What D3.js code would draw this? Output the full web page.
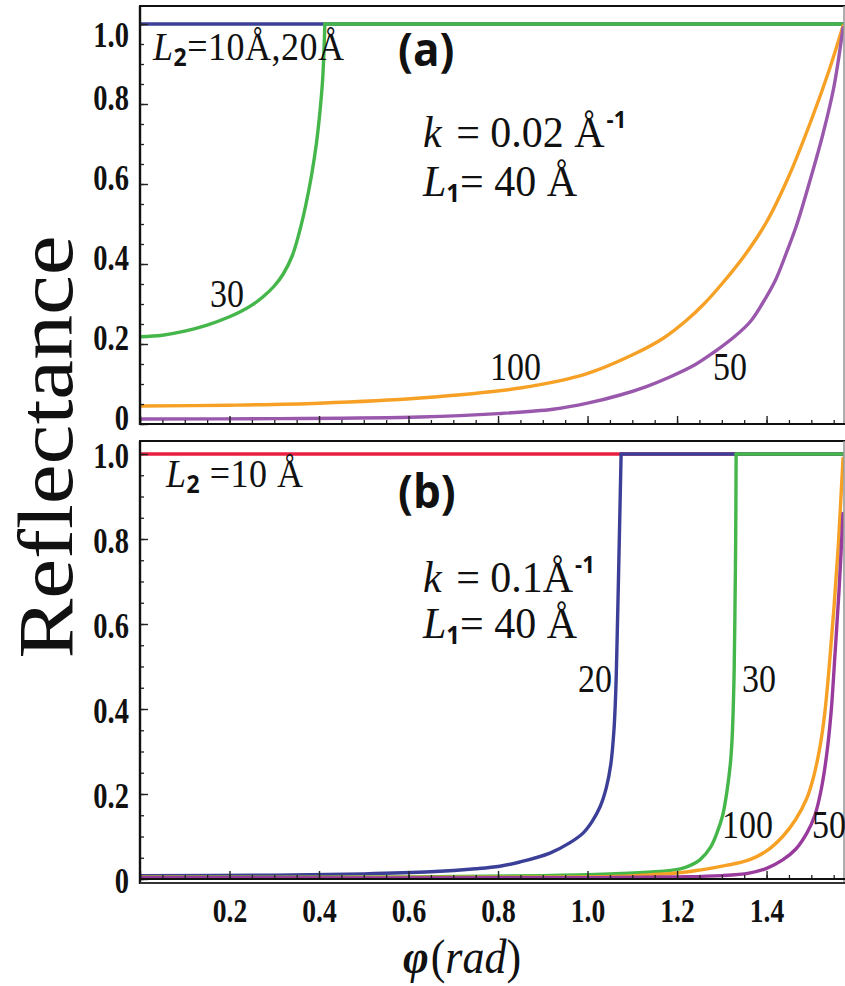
<!DOCTYPE html>
<html>
<head>
<meta charset="utf-8">
<script src="https://cdn.jsdelivr.net/npm/d3@7"></script>
<style>
  body { margin: 0; background: #fff; }
  svg { display: block; }
</style>
</head>
<body>
<svg id="chart" width="845" height="986"></svg>
<script>
// ---- data: [phi (rad), reflectance] ----
const HALF_PI = Math.PI / 2;

// panel (a): k = 0.02 1/A
const aBlue = [[0, 1.0], [HALF_PI, 1.0]];
const aGreen = [[0, 0.218], [0.05, 0.222], [0.1, 0.232], [0.15, 0.247], [0.2, 0.268], [0.225, 0.281],
    [0.25, 0.297], [0.275, 0.318], [0.3, 0.345], [0.32, 0.375], [0.34, 0.42], [0.355, 0.475],
    [0.37, 0.545], [0.383, 0.62], [0.394, 0.7], [0.402, 0.78], [0.408, 0.86], [0.411, 0.93], [0.413, 1.0]];
const aGreenTop = [[0.413, 1.0], [HALF_PI, 1.0]];
const aOrange = [[0, 0.045], [0.2, 0.047], [0.4, 0.052], [0.626, 0.065], [0.849, 0.09], [0.999, 0.126],
    [1.11, 0.178], [1.17, 0.215], [1.222, 0.26], [1.26, 0.3], [1.3, 0.35], [1.35, 0.42], [1.4, 0.505],
    [1.45, 0.62], [1.5, 0.76], [1.54, 0.885], [HALF_PI, 0.995]];
const aPurple = [[0, 0.0125], [0.3, 0.0135], [0.626, 0.0175], [0.8, 0.026], [0.923, 0.037], [1.0, 0.052],
    [1.073, 0.0725], [1.13, 0.093], [1.184, 0.1175], [1.24, 0.148], [1.28, 0.1775], [1.33, 0.22],
    [1.363, 0.255], [1.39, 0.3], [1.42, 0.36], [1.445, 0.43], [1.468, 0.5], [1.5, 0.62], [1.526, 0.725],
    [1.55, 0.84], [HALF_PI, 0.99]];

// panel (b): k = 0.1 1/A
const bRed = [[0, 1.0], [HALF_PI, 1.0]];
const bBlue = [[0, 0.008], [0.3, 0.009], [0.5, 0.012], [0.65, 0.017], [0.75, 0.024], [0.804, 0.03],
    [0.849, 0.04], [0.916, 0.061], [0.96, 0.085], [0.99, 0.108], [1.01, 0.135], [1.028, 0.17],
    [1.042, 0.215], [1.052, 0.27], [1.059, 0.35], [1.063, 0.44], [1.066, 0.56], [1.07, 0.75],
    [1.073, 0.9], [1.075, 1.0]];
const bBlueTop = [[1.075, 1.0], [HALF_PI, 1.0]];
const bGreen = [[0, 0.004], [0.6, 0.005], [0.9, 0.008], [1.05, 0.012], [1.15, 0.017], [1.207, 0.024],
    [1.23, 0.032], [1.251, 0.045], [1.275, 0.075], [1.289, 0.108], [1.302, 0.15], [1.312, 0.21],
    [1.319, 0.27], [1.323, 0.33], [1.327, 0.46], [1.329, 0.6], [1.331, 0.8], [1.332, 1.0]];
const bGreenTop = [[1.332, 1.0], [HALF_PI, 1.0]];
const bOrange = [[0, 0.004], [0.8, 0.004], [1.0, 0.005], [1.105, 0.008], [1.2, 0.014], [1.25, 0.021],
    [1.31, 0.032], [1.361, 0.045], [1.4, 0.066], [1.436, 0.1], [1.465, 0.14], [1.49, 0.19],
    [1.505, 0.24], [1.52, 0.315], [1.53, 0.39], [1.54, 0.5], [1.55, 0.63], [1.56, 0.78], [HALF_PI, 0.99]];
const bPurple = [[0, 0.003], [1.0, 0.003], [1.2, 0.005], [1.3, 0.008], [1.361, 0.014], [1.4, 0.025],
    [1.436, 0.045], [1.465, 0.07], [1.49, 0.108], [1.508, 0.15], [1.522, 0.21], [1.534, 0.29],
    [1.544, 0.39], [1.553, 0.53], [1.562, 0.68], [HALF_PI, 0.86]];

// ticks
const yMajor = [0, 0.2, 0.4, 0.6, 0.8, 1.0];
const yLabels = ["0", "0.2", "0.4", "0.6", "0.8", "1.0"];
const xMajor = [0, 0.2, 0.4, 0.6, 0.8, 1.0, 1.2, 1.4];
const xLabels = ["", "0.2", "0.4", "0.6", "0.8", "1.0", "1.2", "1.4"];
const minorStep = 0.05;

const colors = {
    blue: "#3b3f97",
    green: "#45b64a",
    orange: "#f6a125",
    purpleA: "#9a58ad",
    purpleB: "#993b9d",
    red: "#ea1e40"
};

const SERIF = "'Liberation Serif', 'Times New Roman', serif";
const SANS = "'Open Sans', 'Noto Sans', sans-serif";

const svg = d3.select("#chart");

// scales
const x = d3.scaleLinear().domain([0, HALF_PI]).range([140, 843]);
const yA = d3.scaleLinear().domain([0, 1]).range([424, 24]);
const yB = d3.scaleLinear().domain([0, 1]).range([879, 454]);

const left = 140, right = 844;

// panel definitions
const panels = [
    {id: "a", y: yA, top: 6, bottom: 424, frameBottom: 424, labelShift: [-7, -7, -7, -7, -7, 10], showX: false,
        series: [[aBlue, colors.blue], [aGreen, colors.green], [aGreenTop, colors.green],
            [aOrange, colors.orange], [aPurple, colors.purpleA]]},
    {id: "b", y: yB, top: 441, bottom: 879, frameBottom: 883, labelShift: [1, 1, 1, 1, 1, 1], showX: true,
        series: [[bRed, colors.red], [bBlue, colors.blue], [bBlueTop, colors.blue], [bGreen, colors.green],
            [bGreenTop, colors.green], [bOrange, colors.orange], [bPurple, colors.purpleB]]}
];

const defs = svg.append("defs");

panels.forEach(p => {
    let g = svg.append("g").attr("class", "panel-" + p.id);

    // clip for the curves
    defs.append("clipPath").attr("id", "clip-" + p.id)
        .append("rect")
        .attr("x", left).attr("y", p.top)
        .attr("width", right - left).attr("height", p.bottom - p.top + 2);

    // curves
    let line = d3.line()
        .x(d => x(d[0]))
        .y(d => p.y(d[1]))
        .curve(d3.curveCatmullRom.alpha(0.5));

    g.append("g").attr("clip-path", "url(#clip-" + p.id + ")")
        .selectAll("path")
        .data(p.series)
        .enter()
        .append("path")
        .attr("d", d => line(d[0]))
        .attr("fill", "none")
        .attr("stroke", d => d[1])
        .attr("stroke-width", 3.4)
        .attr("stroke-linejoin", "round")
        .attr("stroke-linecap", "round");

    // minor ticks on y
    let yMinor = d3.range(0, 1.0001, minorStep);
    g.append("g")
        .attr("transform", "translate(" + left + ",0)")
        .call(d3.axisLeft(p.y).tickValues(yMinor).tickSize(-4).tickFormat(""))
        .call(s => s.select(".domain").remove())
        .selectAll("line").attr("stroke", "#222").attr("stroke-width", 1.3);

    // major ticks + labels on y
    let yAx = g.append("g")
        .attr("transform", "translate(" + left + ",0)")
        .call(d3.axisLeft(p.y).tickValues(yMajor).tickSize(-8).tickPadding(12)
            .tickFormat((d, i) => yLabels[i]));
    yAx.select(".domain").remove();
    yAx.selectAll("line").attr("stroke", "#222").attr("stroke-width", 1.4);
    yAx.selectAll("text")
        .attr("font-family", SERIF)
        .attr("font-weight", "bold")
        .attr("font-size", 31)
        .attr("fill", "#111")
        .attr("dy", null)
        .attr("dominant-baseline", "central")
        .attr("transform", (d, i) => "translate(0," + p.labelShift[i] + ") scale(0.92,1.14)")
        .attr("x", -11 / 0.92);

    // x ticks (pointing up)
    let xMinor = d3.range(0, HALF_PI, minorStep);
    g.append("g")
        .attr("transform", "translate(0," + p.bottom + ")")
        .call(d3.axisBottom(x).tickValues(xMinor).tickSize(-4).tickFormat(""))
        .call(s => s.select(".domain").remove())
        .selectAll("line").attr("stroke", "#222").attr("stroke-width", 1.3);

    let xAx = g.append("g")
        .attr("transform", "translate(0," + p.bottom + ")")
        .call(d3.axisBottom(x).tickValues(xMajor).tickSize(-8)
            .tickFormat((d, i) => p.showX ? xLabels[i] : ""));
    xAx.select(".domain").remove();
    xAx.selectAll("line").attr("stroke", "#222").attr("stroke-width", 1.4);
    xAx.selectAll("text")
        .attr("font-family", SERIF)
        .attr("font-weight", "bold")
        .attr("font-size", 30)
        .attr("fill", "#111")
        .attr("dy", null)
        .attr("y", 0)
        .attr("dominant-baseline", "central")
        .attr("transform", "translate(0,32) scale(0.92,1.12)");

    // frame
    g.append("line").attr("x1", left - 1).attr("x2", right + 1).attr("y1", p.top).attr("y2", p.top)
        .attr("stroke", "#111").attr("stroke-width", 2.2);
    g.append("line").attr("x1", left).attr("x2", left).attr("y1", p.top).attr("y2", p.frameBottom + 1)
        .attr("stroke", "#111").attr("stroke-width", 2.4);
    g.append("line").attr("x1", right).attr("x2", right).attr("y1", p.top).attr("y2", p.frameBottom)
        .attr("stroke", "#999").attr("stroke-width", 1.6);
    g.append("line").attr("x1", left).attr("x2", right + 1).attr("y1", p.bottom).attr("y2", p.bottom)
        .attr("stroke", "#111").attr("stroke-width", 2.2);
    if (p.frameBottom !== p.bottom) {
        g.append("line").attr("x1", left).attr("x2", right + 1).attr("y1", p.frameBottom).attr("y2", p.frameBottom)
            .attr("stroke", "#333").attr("stroke-width", 1.8);
    }
});

// ---- text annotations ----
function addText(x0, y0, size, parts, opts) {
    opts = opts || {};
    let t = svg.append("text")
        .attr("transform", "translate(" + x0 + "," + y0 + ")" + (opts.rotate ? " rotate(" + opts.rotate + ")" : "") +
            " scale(" + (opts.sx || 1) + "," + (opts.sy || 1) + ")")
        .attr("font-family", SERIF)
        .attr("font-size", size)
        .attr("fill", "#111")
        .attr("text-anchor", opts.anchor || "start");
    if (opts.spacing) t.attr("letter-spacing", opts.spacing);
    parts.forEach(pt => {
        let s = t.append("tspan").text(pt.t);
        if (pt.italic) s.attr("font-style", "italic");
        if (pt.bold) s.attr("font-weight", "bold");
        if (pt.sans) s.attr("font-family", SANS);
        if (pt.size) s.attr("font-size", pt.size);
        if (pt.dy) s.attr("dy", pt.dy);
        if (pt.dx) s.attr("dx", pt.dx);
    });
    return t;
}

// panel (a)
addText(153, 60, 36, [
    {t: "L", italic: true},
    {t: "2", sans: true, bold: true, size: 23, dy: 5},
    {t: "=10Å,20Å", dy: -5}
], {sy: 1.12, spacing: 0.5});
addText(398, 66, 44, [{t: "(a)", sans: true, bold: true}], {sy: 1.05});
addText(423, 147, 42, [
    {t: "k", italic: true},
    {t: " = 0.02 Å", dx: 4},
    {t: "-1", sans: true, bold: true, size: 22, dy: -18, dx: 2}
], {sy: 1.06});
addText(423, 196, 42, [
    {t: "L", italic: true},
    {t: "1", sans: true, bold: true, size: 24, dy: 6},
    {t: "= 40 Å", dy: -6}
], {sy: 1.06});
addText(210, 307, 34, [{t: "30"}], {sy: 1.15});
addText(490, 380, 34, [{t: "100"}], {sy: 1.15});
addText(713, 380, 34, [{t: "50"}], {sy: 1.15});

// panel (b)
addText(166, 487, 36, [
    {t: "L", italic: true},
    {t: "2", sans: true, bold: true, size: 23, dy: 5},
    {t: " =10 Å", dy: -5}
], {sy: 1.12, spacing: 0.5});
addText(398, 508, 44, [{t: "(b)", sans: true, bold: true}], {sy: 1.05});
addText(423, 592, 42, [
    {t: "k", italic: true},
    {t: " = 0.1Å", dx: 4},
    {t: "-1", sans: true, bold: true, size: 22, dy: -18, dx: 2}
], {sy: 1.04});
addText(423, 638, 42, [
    {t: "L", italic: true},
    {t: "1", sans: true, bold: true, size: 24, dy: 6},
    {t: "= 40 Å", dy: -6}
], {sy: 1.04});
addText(578, 692, 34, [{t: "20"}], {sy: 1.15});
addText(742, 692, 34, [{t: "30"}], {sy: 1.15});
addText(722, 838, 34, [{t: "100"}], {sy: 1.15});
addText(812, 838, 34, [{t: "50"}], {sy: 1.15});

// axis titles
addText(72, 447, 78, [{t: "Reflectance"}], {rotate: -90, anchor: "middle", sx: 1.15});
addText(462, 973, 44, [
    {t: "φ", italic: true, bold: true},
    {t: "(", dx: 2},
    {t: "rad", italic: true},
    {t: ")"}
], {anchor: "middle", sy: 1.08});
</script>
</body>
</html>
